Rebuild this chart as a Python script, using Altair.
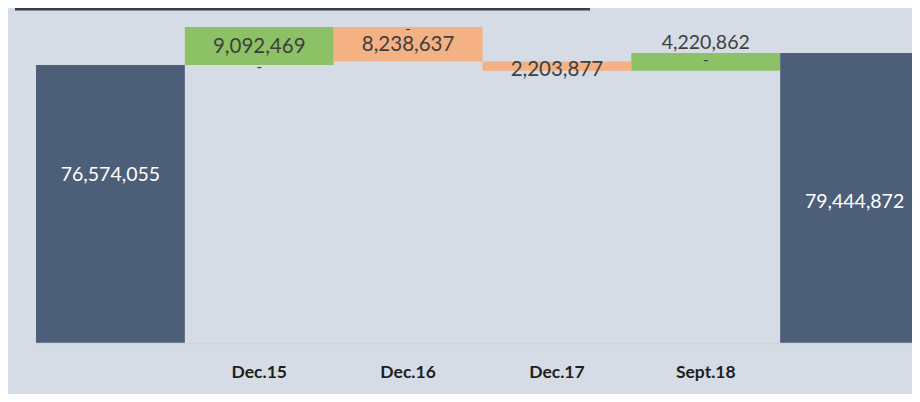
import altair as alt
import pandas as pd

# ---- data ----
categories = [" ", "Dec.15", "Dec.16", "Dec.17", "Sept.18", "  "]
opening_total = 76574055
changes = [9092469, -8238637, -2203877, 4220862]
closing_total = 79444872

# ---- waterfall table built from the arrays ----
rows = [dict(cat=categories[0], start=0, end=opening_total, amount=opening_total, kind="total")]
running = opening_total
for c, d in zip(categories[1:5], changes):
    new = running + d
    rows.append(dict(cat=c, start=running, end=new, amount=abs(d), kind="up" if d > 0 else "down"))
    running = new
rows.append(dict(cat=categories[5], start=0, end=closing_total, amount=closing_total, kind="total"))
df = pd.DataFrame(rows)
df["label"] = df["amount"].map(lambda v: f"{v:,}")
df["mid"] = (df["start"] + df["end"]) / 2
df["dash"] = "-"

BG = "#d6dce5"
DARK = "#4d5e78"
GREEN = "#8dc165"
ORANGE = "#f4b183"
TITLEBAR = "#333f50"

x_enc = alt.X(
    "cat:N",
    sort=categories,
    scale=alt.Scale(range=[0, 893], paddingInner=0, paddingOuter=0),
    axis=alt.Axis(
        title=None,
        bandPosition=0,
        labelAngle=0,
        labelBaseline="middle",
        labelPadding=26,
        labelFont="Lato",
        labelFontWeight="bold",
        labelFontSize=17.5,
        labelColor="#1e1e1e",
        tickSize=3,
        tickColor="#cfd3d9",
        domainColor="#d0d3d8",
        domainWidth=1.5,
        zindex=1,
    ),
)
y_scale = alt.Scale(domain=[10_000_000, 90_000_000], clamp=True, nice=False, zero=False)

base = alt.Chart(df)

bars = base.mark_bar(strokeWidth=0).encode(
    x=x_enc,
    y=alt.Y("start:Q", scale=y_scale, axis=None),
    y2="end:Q",
    color=alt.Color(
        "kind:N",
        scale=alt.Scale(domain=["total", "up", "down"], range=[DARK, GREEN, ORANGE]),
        legend=None,
    ),
)


def text_layer(cats, field, dy, color, size, text="label"):
    return base.transform_filter(
        alt.FieldOneOfPredicate(field="cat", oneOf=cats)
    ).mark_text(
        dy=dy, color=color, fontSize=size, font="Lato", baseline="middle", align="center"
    ).encode(
        x=x_enc,
        y=alt.Y(f"{field}:Q", scale=y_scale, axis=None),
        text=f"{text}:N",
    )


labels = [
    text_layer([categories[0]], "end", 110, "white", 19.5),
    text_layer([categories[5]], "end", 149, "white", 19.5),
    text_layer(["Dec.15", "Dec.16"], "mid", 1, "#3f3f3f", 20.5),
    text_layer(["Dec.17"], "mid", 4, "#3f3f3f", 20.5),
    text_layer(["Sept.18"], "end", -10, "#3f3f3f", 19.5),
    text_layer(["Dec.15", "Dec.16"], "start", 2, "#3f3f3f", 16, text="dash"),
    text_layer(["Sept.18"], "mid", -2, "#3f3f3f", 16, text="dash"),
]

title_bar = alt.Chart(pd.DataFrame({"t": [0]})).mark_rect(color=TITLEBAR).encode(
    x=alt.value(-21), x2=alt.value(554), y=alt.value(-1), y2=alt.value(1.5)
)

chart = alt.layer(bars, *labels, title_bar).properties(
    width=876,
    height=334,
    background=BG,
    padding={"left": 28, "top": 1, "right": 0, "bottom": 51},
    autosize=alt.AutoSizeParams(type="none"),
).configure_view(stroke=None)

chart.save("out.html", embed_options={"renderer": "svg", "actions": False})
